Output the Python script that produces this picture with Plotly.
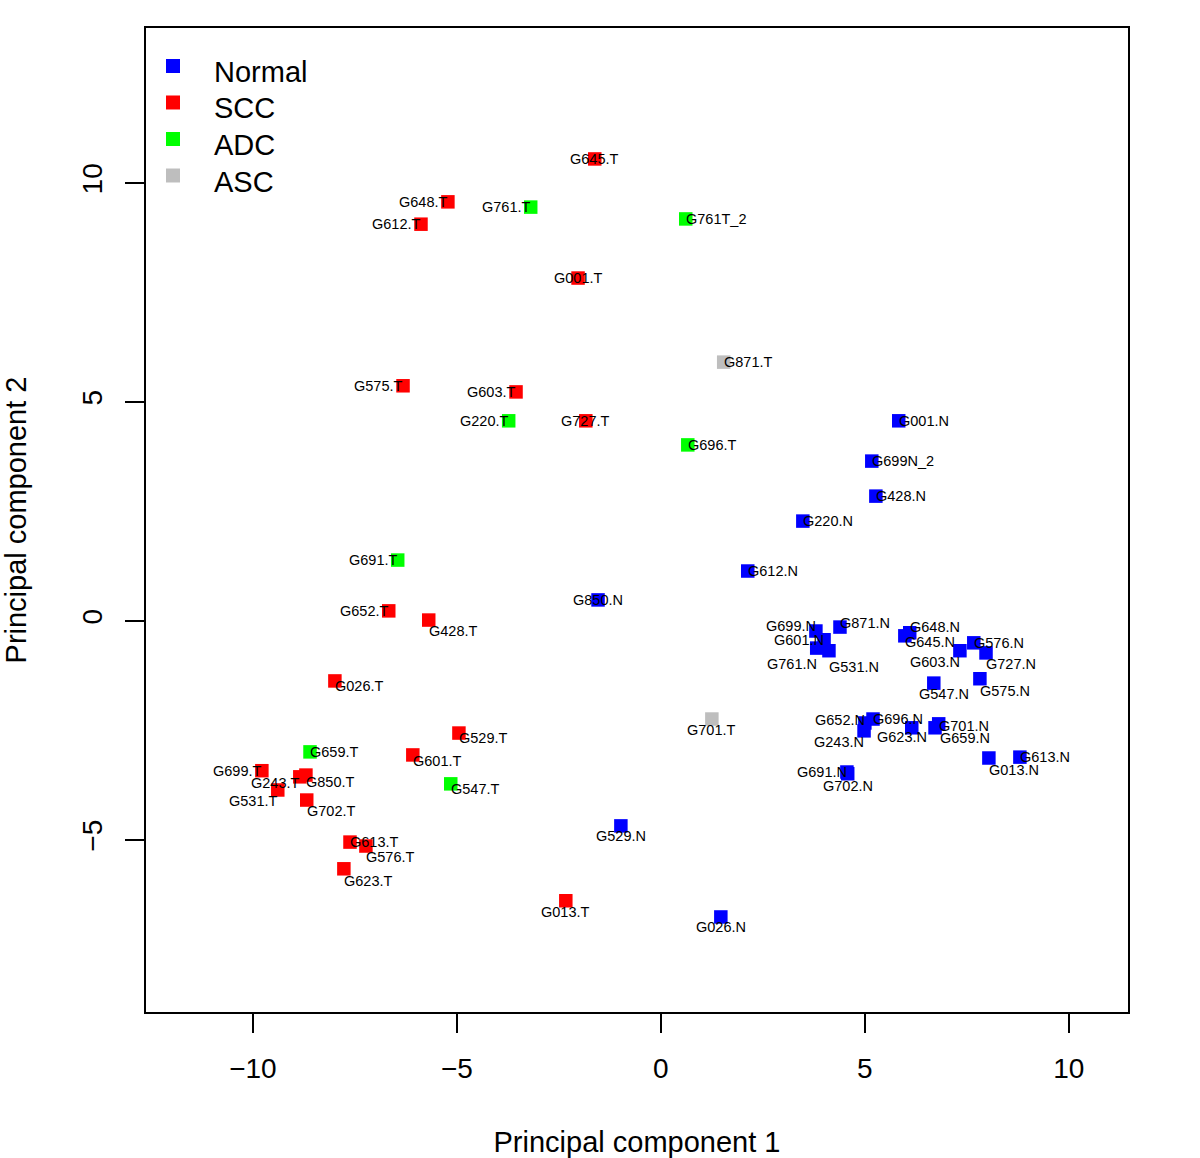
import plotly.graph_objects as go

# ---------------- data ----------------
normal_names = ["G001.N", "G699N_2", "G428.N", "G220.N", "G612.N", "G850.N", "G699.N", "G871.N",
                "G601.N", "G761.N", "G531.N", "G648.N", "G645.N", "G576.N", "G603.N", "G727.N",
                "G547.N", "G575.N", "G652.N", "G696.N", "G243.N", "G623.N", "G701.N", "G659.N",
                "G013.N", "G613.N", "G691.N", "G702.N", "G529.N", "G026.N"]
normal_pc1 = [5.83, 5.17, 5.27, 3.48, 2.13, -1.54, 3.80, 4.39,
              4.00, 3.82, 4.12, 6.10, 5.98, 7.67, 7.33, 7.97,
              6.69, 7.82, 5.00, 5.20, 4.98, 6.15, 6.81, 6.72,
              8.04, 8.80, 4.56, 4.58, -0.98, 1.47]
normal_pc2 = [4.57, 3.65, 2.85, 2.28, 1.14, 0.48, -0.23, -0.14,
              -0.43, -0.62, -0.68, -0.27, -0.34, -0.50, -0.68, -0.73,
              -1.42, -1.32, -2.33, -2.24, -2.51, -2.44, -2.35, -2.44,
              -3.13, -3.11, -3.45, -3.49, -4.68, -6.76]

scc_names = ["G645.T", "G648.T", "G612.T", "G001.T", "G575.T", "G603.T", "G727.T", "G652.T",
             "G428.T", "G026.T", "G529.T", "G601.T", "G699.T", "G243.T", "G850.T", "G531.T",
             "G702.T", "G613.T", "G576.T", "G623.T", "G013.T"]
scc_pc1 = [-1.62, -5.22, -5.88, -2.03, -6.32, -3.55, -1.84, -6.67,
           -5.69, -7.99, -4.95, -6.08, -9.78, -8.85, -8.70, -9.39,
           -8.68, -7.62, -7.23, -7.77, -2.33]
scc_pc2 = [10.55, 9.57, 9.06, 7.83, 5.37, 5.23, 4.57, 0.23,
           0.02, -1.37, -2.56, -3.06, -3.42, -3.56, -3.52, -3.86,
           -4.09, -5.05, -5.14, -5.66, -6.39]

adc_names = ["G761.T", "G761T_2", "G220.T", "G696.T", "G691.T", "G659.T", "G547.T"]
adc_pc1 = [-3.19, 0.61, -3.73, 0.66, -6.45, -8.60, -5.15]
adc_pc2 = [9.45, 9.18, 4.57, 4.02, 1.39, -2.99, -3.72]

asc_names = ["G871.T", "G701.T"]
asc_pc1 = [1.54, 1.25]
asc_pc2 = [5.91, -2.24]

group_labels = ["Normal", "SCC", "ADC", "ASC"]
group_colors = ["#0000FF", "#FF0000", "#00FF00", "#BEBEBE"]

x_ticks = [-10, -5, 0, 5, 10]
y_ticks = [-5, 0, 5, 10]

# ---------------- label placement styles (anchor, dx px, dy px) ----------------
normal_lab = [("l", 0, 0), ("l", 0, 0), ("l", 0, 0), ("l", 0, 0), ("l", 0, 0), ("c", 0, 0),
              ("r", 0, -5), ("l", 0, -4), ("r", 0, 0), ("r", 0, 16), ("l", 0, 16),
              ("l", 0, -6), ("l", 0, 6), ("l", 0, 0), ("r", 0, 11), ("l", 0, 11),
              ("c", 10, 11), ("l", 0, 12), ("r", 0, -3), ("l", 0, 0), ("r", 0, 11),
              ("c", -10, 9), ("l", 0, 2), ("l", 5, 10), ("l", 0, 12), ("l", 0, 0),
              ("r", 0, 0), ("c", 0, 12), ("c", 0, 10), ("c", 0, 10)]
scc_lab = [("c", 0, 0), ("r", 0, 0), ("r", 0, 0), ("c", 0, 0), ("r", 0, 0), ("r", 0, 0),
           ("c", 0, 0), ("r", 0, 0), ("l", 0, 11), ("l", 0, 5), ("l", 0, 5), ("l", 0, 6),
           ("r", 0, 0), ("r", 0, 6), ("l", 0, 7), ("r", 0, 11), ("l", 0, 11), ("l", 0, 0),
           ("l", 0, 11), ("l", 0, 12), ("c", 0, 11)]
adc_lab = [("r", 0, 0), ("l", 0, 0), ("r", 0, 0), ("l", 0, 0), ("r", 0, 0), ("l", 0, 0), ("l", 0, 5)]
asc_lab = [("l", 0, 0), ("c", 0, 11)]

FONT = "Liberation Sans, Arial, Helvetica, sans-serif"

fig = go.Figure()
groups = [
    (normal_names, normal_pc1, normal_pc2, normal_lab),
    (scc_names, scc_pc1, scc_pc2, scc_lab),
    (adc_names, adc_pc1, adc_pc2, adc_lab),
    (asc_names, asc_pc1, asc_pc2, asc_lab),
]

annotations = []
anchor_map = {"l": "left", "r": "right", "c": "center"}
pad_shift = {"l": -2, "r": 2, "c": 0}
for (names, xs, ys, labs), gname, col in zip(groups, group_labels, group_colors):
    fig.add_trace(go.Scatter(
        x=xs, y=ys, mode="markers", name=gname, showlegend=False,
        marker=dict(symbol="square", size=13.5, color=col, line=dict(width=0)),
        text=names, hoverinfo="text+name",
    ))
    for n, x, y, (a, dx, dy) in zip(names, xs, ys, labs):
        annotations.append(dict(
            x=x, y=y, xref="x", yref="y", text=n, showarrow=False,
            xanchor=anchor_map[a], yanchor="middle", xshift=dx + pad_shift[a],
            yshift=-dy, font=dict(family=FONT, size=14.5, color="black"),
        ))

# manual legend (paper coordinates)
shapes = []
leg_x = 0.0275
leg_y0 = 0.9614
leg_step = 0.0371
for i, (gname, col) in enumerate(zip(group_labels, group_colors)):
    yy = leg_y0 - i * leg_step
    shapes.append(dict(type="rect", xref="paper", yref="paper", xsizemode="pixel", ysizemode="pixel",
                       xanchor=leg_x, yanchor=yy, x0=-7, x1=7, y0=-7, y1=7,
                       fillcolor=col, line=dict(width=0)))
    annotations.append(dict(x=0.0672, y=yy, xref="paper", yref="paper", text=gname, showarrow=False,
                            xanchor="left", yanchor="middle", yshift=-6,
                            font=dict(family=FONT, size=29, color="black")))

fig.update_layout(
    width=1200, height=1158,
    margin=dict(l=146, r=72, t=28, b=146, autoexpand=False),
    paper_bgcolor="white", plot_bgcolor="white",
    font=dict(family=FONT, color="black"),
    annotations=annotations, shapes=shapes,
    showlegend=False,
)
fig.update_xaxes(
    range=[-12.62, 11.45], tickvals=x_ticks, ticks="outside", ticklen=19, tickwidth=1.5,
    tickcolor="black", showline=True, linecolor="black", linewidth=1.5, mirror=True,
    showgrid=False, zeroline=False, tickfont=dict(size=28, family=FONT),
    ticklabelstandoff=12, automargin=False,
    title=dict(text="Principal component 1", font=dict(size=29, family=FONT), standoff=49),
)
fig.update_yaxes(
    range=[-8.93, 13.54], tickvals=y_ticks, ticks="outside", ticklen=19, tickwidth=1.5,
    tickcolor="black", showline=True, linecolor="black", linewidth=1.5, mirror=True,
    showgrid=False, zeroline=False, tickfont=dict(size=28, family=FONT), tickangle=-90,
    ticklabelstandoff=12, automargin=False,
    title=dict(text="Principal component 2", font=dict(size=29, family=FONT), standoff=42),
)

fig.write_html("out.html", config={"displayModeBar": False},
               post_script="document.body.style.margin='0';")
